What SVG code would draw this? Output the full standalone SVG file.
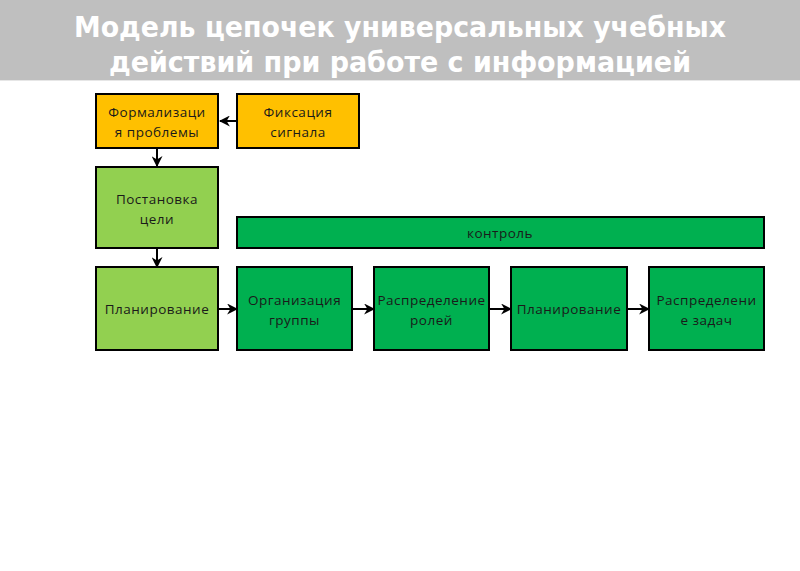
<svg xmlns="http://www.w3.org/2000/svg" width="800" height="571" viewBox="0 0 800 571">
<style>
.box{stroke:#000;stroke-width:2}
.y{fill:#ffc000}.lg{fill:#92d050}.g{fill:#00b050}
.t{font-family:"Open Sans","DejaVu Sans",sans-serif;font-size:13.5px;letter-spacing:0.5px;fill:#1a1a1a;text-anchor:middle}
.title{font-family:"DejaVu Sans Condensed","Open Sans","Liberation Sans",sans-serif;font-weight:bold;font-size:29px;fill:#fff;text-anchor:middle}
.c{stroke:#000;stroke-width:2;fill:none;marker-end:url(#ah)}
</style>
<defs>
<marker id="ah" viewBox="0 0 10 10" refX="9" refY="5" markerWidth="11" markerHeight="11" markerUnits="userSpaceOnUse" orient="auto">
<path d="M0,0 L10,5 L0,10 L3,5 z" fill="#000"/>
</marker>
</defs>
<rect x="0" y="0" width="800" height="80" fill="#bfbfbf"/>
<line x1="0" y1="80.5" x2="800" y2="80.5" stroke="#e6e6e6" stroke-width="1"/>
<text class="title" x="400" y="37" textLength="652" lengthAdjust="spacingAndGlyphs">Модель цепочек универсальных учебных</text>
<text class="title" x="400" y="72" textLength="582" lengthAdjust="spacingAndGlyphs">действий при работе с информацией</text>

<g id="connectors">
<line class="c" x1="237" y1="121" x2="220" y2="121"/>
<line class="c" x1="157" y1="148" x2="157" y2="166"/>
<line class="c" x1="157" y1="249" x2="157" y2="267"/>
<line class="c" x1="219" y1="309" x2="237" y2="309"/>
<line class="c" x1="352" y1="309" x2="374" y2="309"/>
<line class="c" x1="489" y1="309" x2="511" y2="309"/>
<line class="c" x1="627" y1="309" x2="649" y2="309"/>
</g>

<g id="formalization">
<rect class="box y" x="96" y="94" width="122" height="54"/>
<text class="t" x="157" y="117">Формализаци</text>
<text class="t" x="157" y="137">я проблемы</text>
</g>
<g id="fixation">
<rect class="box y" x="237" y="94" width="122" height="54"/>
<text class="t" x="298" y="117">Фиксация</text>
<text class="t" x="298" y="137">сигнала</text>
</g>
<g id="goal">
<rect class="box lg" x="96" y="167" width="122" height="81"/>
<text class="t" x="157" y="204">Постановка</text>
<text class="t" x="157" y="224">цели</text>
</g>
<g id="control">
<rect class="box g" x="237" y="217" width="527" height="31"/>
<text class="t" x="500" y="238">контроль</text>
</g>
<g id="planning1">
<rect class="box lg" x="96" y="267" width="122" height="83"/>
<text class="t" x="157" y="314">Планирование</text>
</g>
<g id="organization">
<rect class="box g" x="237" y="267" width="115" height="83"/>
<text class="t" x="294.5" y="305">Организация</text>
<text class="t" x="294.5" y="325">группы</text>
</g>
<g id="roles">
<rect class="box g" x="374" y="267" width="115" height="83"/>
<text class="t" x="431.5" y="305">Распределение</text>
<text class="t" x="431.5" y="325">ролей</text>
</g>
<g id="planning2">
<rect class="box g" x="511" y="267" width="116" height="83"/>
<text class="t" x="569" y="314">Планирование</text>
</g>
<g id="tasks">
<rect class="box g" x="649" y="267" width="115" height="83"/>
<text class="t" x="706.5" y="305">Распределени</text>
<text class="t" x="706.5" y="325">е задач</text>
</g>
</svg>
